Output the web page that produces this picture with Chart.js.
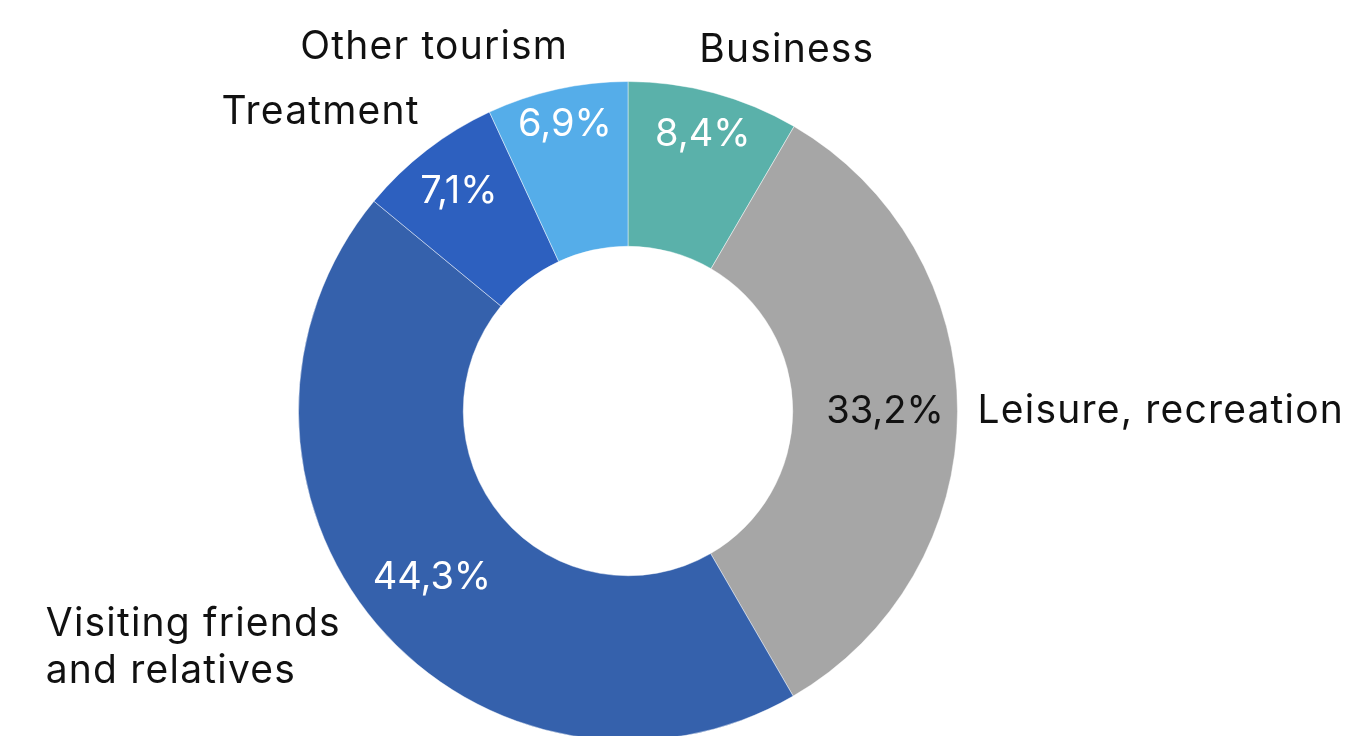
<!DOCTYPE html>
<html>
<head>
<meta charset="utf-8">
<script src="https://cdn.jsdelivr.net/npm/chart.js@4.4.1/dist/chart.umd.min.js"></script>
<style>
  html, body { margin: 0; padding: 0; background: #ffffff; overflow: hidden; }
  #wrap { width: 1349px; height: 822px; }
</style>
</head>
<body>
<div id="wrap"><canvas id="chart" width="1349" height="822"></canvas></div>
<script>
// Purposes of trips, share of all trips (%)
const categories = ['Business', 'Leisure, recreation', 'Visiting friends and relatives', 'Treatment', 'Other tourism'];
const shares = [8.4, 33.2, 44.3, 7.1, 6.9];
const sliceColors = ['#5AB1AA', '#A6A6A6', '#3561AC', '#2D60BF', '#55ADE9'];

const VALUE_FONT = '400 38px Inter, "Open Sans", sans-serif';
const NAME_FONT = '400 39px Inter, "Open Sans", sans-serif';

// Value labels sit on each slice, at its middle angle; radius is a fraction of the outer radius
const valueLabelStyle = [
  { rf: 0.87, color: '#ffffff' },
  { rf: 0.78, color: '#111111' },
  { rf: 0.78, color: '#ffffff' },
  { rf: 0.84, color: '#ffffff' },
  { rf: 0.89, color: '#ffffff' }
];

// Category labels outside the ring, placed relative to the ring centre in units of the outer radius
const categoryLabelStyle = [
  { dx: 0.482, dy: -1.094, align: 'center', lines: ['Business'] },
  { dx: 1.061, dy: 0.0, align: 'left', lines: ['Leisure, recreation'] },
  { dx: -1.767, dy: 0.648, align: 'left', lines: ['Visiting friends', 'and relatives'], lineStep: 0.142 },
  { dx: -0.933, dy: -0.906, align: 'center', lines: ['Treatment'] },
  { dx: -0.588, dy: -1.103, align: 'center', lines: ['Other tourism'] }
];

const fmt = v => v.toFixed(1).replace('.', ',') + '%';

const labelPlugin = {
  id: 'sliceLabels',
  afterDatasetsDraw(chart) {
    const ctx = chart.ctx;
    const meta = chart.getDatasetMeta(0);
    ctx.save();
    ctx.textBaseline = 'middle';
    meta.data.forEach((arc, i) => {
      const { x, y, startAngle, endAngle, outerRadius } = arc.getProps(['x', 'y', 'startAngle', 'endAngle', 'outerRadius'], true);
      const mid = (startAngle + endAngle) / 2;

      const vs = valueLabelStyle[i];
      ctx.font = VALUE_FONT;
      ctx.letterSpacing = '0px';
      ctx.fillStyle = vs.color;
      ctx.textAlign = 'center';
      ctx.fillText(fmt(shares[i]), x + Math.cos(mid) * outerRadius * vs.rf, y + Math.sin(mid) * outerRadius * vs.rf);

      const cs = categoryLabelStyle[i];
      ctx.font = NAME_FONT;
      ctx.letterSpacing = '1.2px';
      ctx.fillStyle = '#111111';
      ctx.textAlign = cs.align;
      cs.lines.forEach((line, k) => {
        const step = cs.lineStep || 0;
        ctx.fillText(line, x + cs.dx * outerRadius, y + (cs.dy + k * step) * outerRadius);
      });
    });
    ctx.restore();
  }
};

new Chart(document.getElementById('chart'), {
  type: 'doughnut',
  data: {
    labels: categories,
    datasets: [{
      data: shares,
      backgroundColor: sliceColors,
      borderColor: 'rgba(255,255,255,0.45)',
      borderWidth: 1
    }]
  },
  options: {
    responsive: false,
    devicePixelRatio: 1,
    animation: false,
    cutout: '50%',
    layout: { padding: { top: 81, bottom: 81, left: 0, right: 93 } },
    plugins: {
      legend: { display: false },
      tooltip: { enabled: false }
    }
  },
  plugins: [labelPlugin]
});
</script>
</body>
</html>
